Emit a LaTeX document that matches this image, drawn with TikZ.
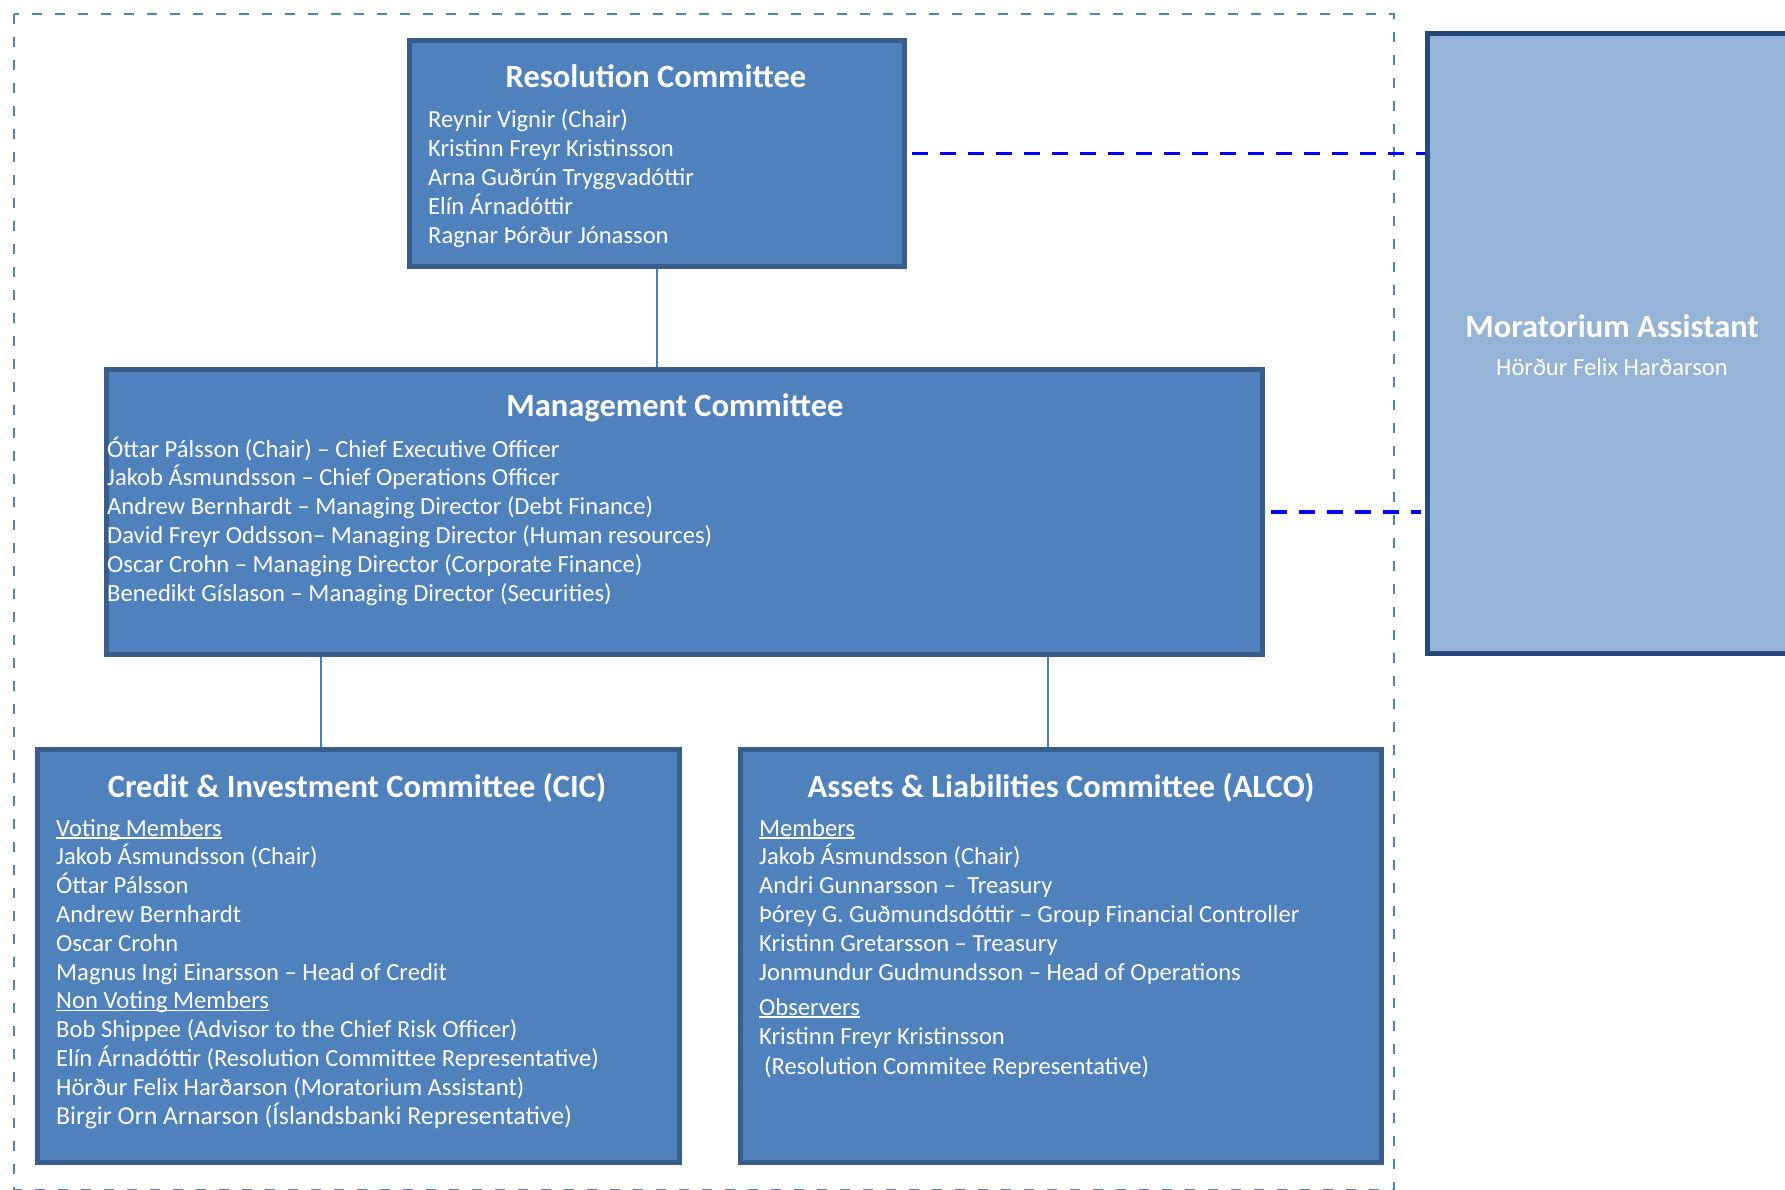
\documentclass[tikz,border=0pt]{standalone}
\usepackage{fontspec}
\setmainfont{Carlito}
\definecolor{boxfill}{HTML}{4F81BD}
\definecolor{boxedge}{HTML}{385D8A}
\definecolor{morfill}{HTML}{95B3D7}
\definecolor{moredge}{HTML}{24487A}
\definecolor{linkcol}{HTML}{4A7EBB}
\definecolor{frame}{HTML}{4F81BD}
% underline sitting just under the baseline
\newcommand\undr[1]{\setbox0\hbox{#1}\rlap{\rule[-2.6pt]{\wd0}{1.3pt}}\box0}
\begin{document}
\begin{tikzpicture}[x=1pt,y=-1pt,
  cbox/.style={draw=boxedge,line width=5pt,fill=boxfill,inner sep=0pt},
  morbox/.style={draw=moredge,line width=5.5pt,fill=morfill,inner sep=0pt},
  boxtitle/.style={text=white,font=\fontsize{32.5}{36}\selectfont\bfseries,inner sep=0pt,anchor=base},
  item/.style={text=white,font=\fontsize{24.6}{28}\selectfont,inner sep=0pt,anchor=base west},
  link/.style={draw=linkcol,line width=2pt},
  dotlink/.style={draw=blue,line width=3.5pt,dash pattern=on 15.5pt off 12.5pt},
  outline/.style={draw=frame,line width=2pt,dash pattern=on 10pt off 13pt}]
\useasboundingbox (0,0) rectangle (1785,1190);

% enclosing dashed frame
\draw[outline] (14,14) rectangle (1394,1189.5);

% committee boxes
\node[cbox,minimum width=495,minimum height=226] (res) at (657,153.5) {};
\node[cbox,minimum width=1156,minimum height=285] (mgmt) at (684.5,512) {};
\node[cbox,minimum width=642,minimum height=413] (cic) at (358.5,956) {};
\node[cbox,minimum width=641,minimum height=413] (alco) at (1061,956) {};
\node[morbox,minimum width=370,minimum height=620] (mor) at (1612.5,343.5) {};

% connectors
\coordinate (cicx) at (321,0);
\coordinate (alcox) at (1048,0);
\draw[link] (res.south) -- (res.south |- mgmt.north);
\draw[link] (cicx |- mgmt.south) -- (cicx |- cic.north);
\draw[link] (alcox |- mgmt.south) -- (alcox |- alco.north);
\draw[dotlink,shorten <=5pt] (res.east) -- (res.east -| mor.west);
\draw[dotlink,shorten <=6pt,shorten >=4pt] (mgmt.east) -- (mgmt.east -| mor.west);

% Resolution Committee
\node[boxtitle] (res-t) at (656,88) {Resolution Committee};
\foreach \txt [count=\i] in {Reynir Vignir (Chair),Kristinn Freyr Kristinsson,
  Arna Guðrún Tryggvadóttir,Elín Árnadóttir,Ragnar Þórður Jónasson}
  \node[item] (res-l\i) at ({428},{128+29*(\i-1)}) {\txt};

% Management Committee
\node[boxtitle] (mgmt-t) at (675,416) {Management Committee};
\foreach \txt [count=\i] in {Óttar Pálsson (Chair) – Chief Executive Officer,
  Jakob Ásmundsson – Chief Operations Officer,
  Andrew Bernhardt – Managing Director (Debt Finance),
  David Freyr Oddsson– Managing Director (Human resources),
  Oscar Crohn – Managing Director (Corporate Finance),
  Benedikt Gíslason – Managing Director (Securities)}
  \node[item] (mgmt-l\i) at ({107},{457+28.8*(\i-1)}) {\txt};

% Credit & Investment Committee
\node[boxtitle] (cic-t) at (357,797) {Credit \& Investment Committee (CIC)};
\foreach \txt [count=\i] in {{\undr{Voting Members}},Jakob Ásmundsson (Chair),
  Óttar Pálsson,Andrew Bernhardt,Oscar Crohn,
  Magnus Ingi Einarsson – Head of Credit,{\undr{Non Voting Members}},
  Bob Shippee (Advisor to the Chief Risk Officer),
  Elín Árnadóttir (Resolution Committee Representative),
  Hörður Felix Harðarson (Moratorium Assistant),
  {\fontsize{25.8}{30}\selectfont Birgir Orn Arnarson (Íslandsbanki Representative)}}
  \node[item] (cic-l\i) at ({56},{836+28.8*(\i-1)}) {\txt};

% Assets & Liabilities Committee
\node[boxtitle] (alco-t) at (1061,797) {Assets \& Liabilities Committee (ALCO)};
\foreach \txt [count=\i] in {{\undr{Members}},Jakob Ásmundsson (Chair),
  Andri Gunnarsson – \ Treasury,
  Þórey G. Guðmundsdóttir – Group Financial Controller,
  Kristinn Gretarsson – Treasury,
  Jonmundur Gudmundsson – Head of Operations}
  \node[item] (alco-l\i) at ({759},{836+28.8*(\i-1)}) {\txt};
\foreach \txt [count=\i] in {{\undr{Observers}},Kristinn Freyr Kristinsson,
  {\hspace{5pt}(Resolution Commitee Representative)}}
  \node[item] (alco-o\i) at ({759},{1015+29.5*(\i-1)}) {\txt};

% Moratorium Assistant
\node[boxtitle] (mor-t) at (1612,337) {Moratorium Assistant};
\node[item,anchor=base] (mor-n) at (1612,375.5) {Hörður Felix Harðarson};
\end{tikzpicture}
\end{document}
